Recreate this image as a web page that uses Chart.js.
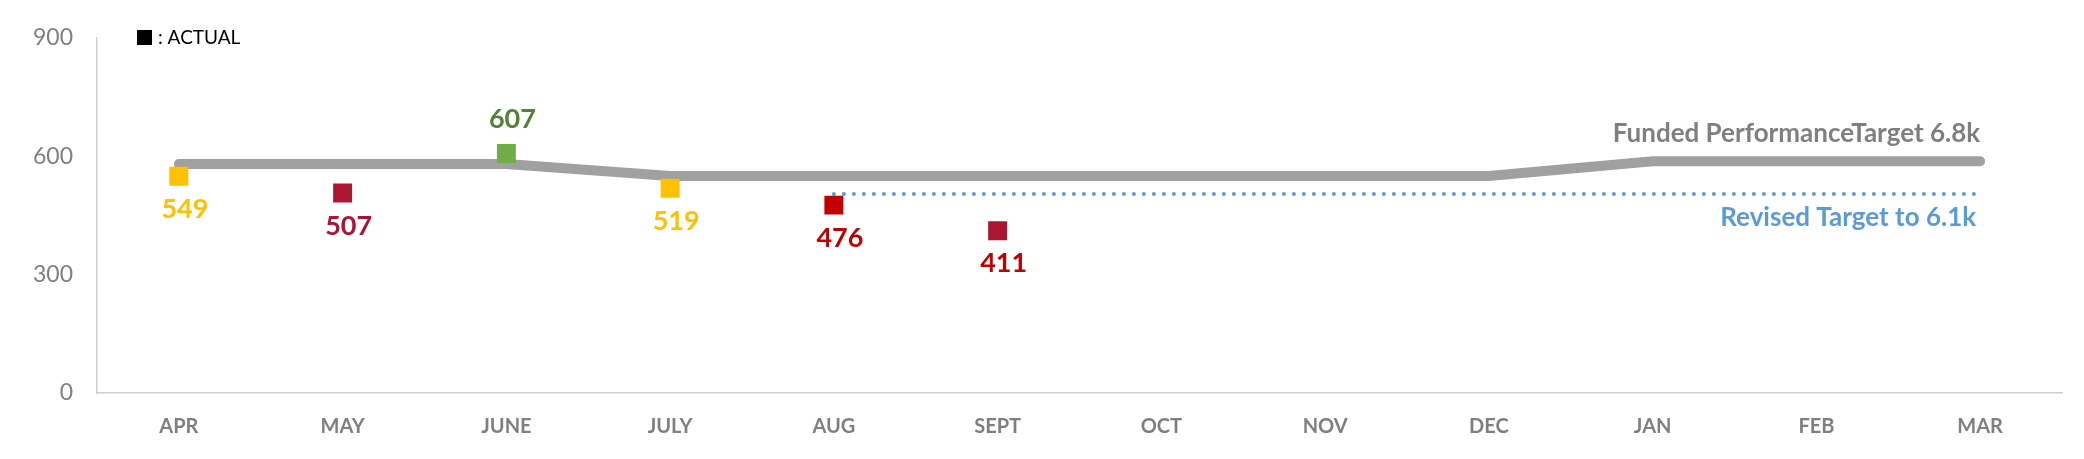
<!DOCTYPE html>
<html>
<head>
<meta charset="utf-8">
<script src="https://cdn.jsdelivr.net/npm/chart.js@4/dist/chart.umd.min.js"></script>
<style>
  body { margin: 0; background: #fff; }
  canvas { display: block; }
</style>
</head>
<body>
<canvas id="perfChart" width="2084" height="459"></canvas>
<script>
// dati
const months = ["APR", "MAY", "JUNE", "JULY", "AUG", "SEPT", "OCT", "NOV", "DEC", "JAN", "FEB", "MAR"];
const actual = [549, 507, 607, 519, 476, 411, null, null, null, null, null, null];
const fundedTarget = [580, 580, 580, 550, 550, 550, 550, 550, 550, 587, 587, 587];
const revisedTarget = [null, null, null, null, 504, 504, 504, 504, 504, 504, 504, 504];
const yTicks = [0, 300, 600, 900];

const markerColors = ["#ffc000", "#ab1531", "#70ad47", "#ffc000", "#c00000", "#ab1531"];
const labelColors = ["#ffc000", "#ab1531", "#548235", "#ffc000", "#c00000", "#c00000"];
const labelAbove = [false, false, true, false, false, false];

const FONT = "Lato, 'Noto Sans', sans-serif";

// etichette valori, testi dei target e legenda
const annotations = {
  id: "annotations",
  afterDatasetsDraw(chart) {
    const ctx = chart.ctx;
    ctx.save();
    ctx.textBaseline = "middle";

    // valori actual
    const meta = chart.getDatasetMeta(0);
    ctx.font = "bold 27px " + FONT;
    ctx.textAlign = "center";
    meta.data.forEach((pt, i) => {
      if (actual[i] == null) return;
      ctx.fillStyle = labelColors[i];
      const dy = labelAbove[i] ? -34 : 33;
      ctx.fillText(String(actual[i]), pt.x + 6, pt.y + dy);
    });

    // testi delle linee target
    ctx.font = "bold 26px " + FONT;
    const fMeta = chart.getDatasetMeta(1);
    const fLast = fMeta.data[fMeta.data.length - 1];
    ctx.textAlign = "right";
    ctx.fillStyle = "#7f7f7f";
    ctx.fillText("Funded PerformanceTarget 6.8k", fLast.x, fLast.y - 28);

    const rMeta = chart.getDatasetMeta(2);
    const rLast = rMeta.data[rMeta.data.length - 1];
    ctx.fillStyle = "#5b9bd5";
    ctx.fillText("Revised Target to 6.1k", rLast.x - 4, rLast.y + 24);

    // legenda
    const left = chart.chartArea.left;
    ctx.fillStyle = "#000";
    ctx.fillRect(left + 40, 30, 15, 15);
    ctx.font = "19px " + FONT;
    ctx.textAlign = "left";
    ctx.fillText(": ACTUAL", left + 61, 38);
    ctx.restore();
  }
};

new Chart(document.getElementById("perfChart").getContext("2d"), {
  type: "line",
  data: {
    labels: months,
    datasets: [
      {
        label: "ACTUAL",
        data: actual,
        showLine: false,
        pointStyle: "rect",
        pointRadius: 13.4,
        pointHoverRadius: 13.4,
        pointBorderWidth: 0,
        pointBackgroundColor: markerColors,
        pointBorderColor: markerColors
      },
      {
        label: "Funded Performance Target",
        data: fundedTarget,
        borderColor: "#a0a0a0",
        borderWidth: 10,
        borderCapStyle: "round",
        pointRadius: 0,
        tension: 0
      },
      {
        label: "Revised Target",
        data: revisedTarget,
        borderColor: "#5b9bd5",
        borderWidth: 4,
        borderDash: [0, 10],
        borderCapStyle: "round",
        pointRadius: 0,
        spanGaps: false
      }
    ]
  },
  options: {
    responsive: false,
    animation: false,
    layout: { padding: { top: 36, right: 22, left: 0, bottom: 0 } },
    plugins: {
      legend: { display: false },
      tooltip: { enabled: false }
    },
    scales: {
      x: {
        offset: true,
        grid: { display: false, drawTicks: false },
        border: { display: true, color: "#d0d0d0", width: 1.5 },
        ticks: {
          padding: 22,
          color: "#7f7f7f",
          font: { family: FONT, size: 20, weight: "bold" }
        },
        afterFit(axis) { axis.height = 66; }
      },
      y: {
        min: 0,
        max: 900,
        afterBuildTicks(axis) { axis.ticks = yTicks.map(v => ({ value: v })); },
        grid: { display: false, drawTicks: false },
        border: { display: true, color: "#d0d0d0", width: 1.5 },
        ticks: {
          padding: 24,
          color: "#7f7f7f",
          font: { family: FONT, size: 23 }
        },
        afterFit(axis) { axis.width = 97; }
      }
    }
  },
  plugins: [annotations]
});
</script>
</body>
</html>
